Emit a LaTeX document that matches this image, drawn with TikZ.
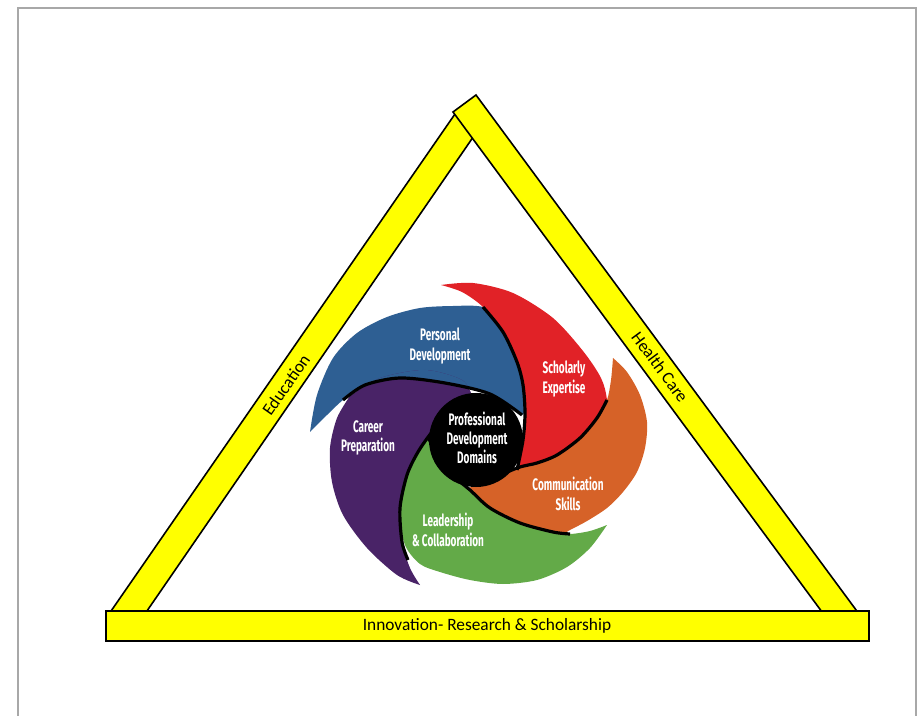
\documentclass[tikz,border=0pt]{standalone}
\usepackage{fontspec}
\newfontfamily\barfont{Carlito}
\newfontfamily\bladefont[FakeStretch=0.6]{Fira Sans}

\tikzset{every picture/.style={line width=0.75pt}}
\tikzset{
  bar/.style={draw=black, line width=1.2pt, fill={rgb, 255:red, 255; green, 255; blue, 0}},
  bartext/.style={inner sep=0.75pt, font=\barfont\fontsize{13}{15}\selectfont},
  bladetext/.style={inner sep=0.75pt, align=center, text=white, font=\bladefont\bfseries\fontsize{12.5}{14.5}\selectfont},
  rim/.style={draw=black, line width=2.4pt},
}

% outline of the blue and the purple blade, both are needed twice
\newcommand\bluebladepath{plot[smooth] coordinates {(310,432) (317,395) (333,358) (357,333) (387,317) (420,308) (453,306) (483,307) (515,322) (533,365) (535,398) (522,415)} -- plot[smooth] coordinates {(522,415) (490,394) (445,383) (400,378) (365,385) (343,400) (327,415) (310,432)} -- cycle}
\newcommand\purplebladepath{plot[smooth] coordinates {(420,585) (397,575) (367,548) (343,515) (332,482) (330,448) (337,418) (350,396)} -- plot[smooth] coordinates {(350,396) (380,378) (425,370) (462,380) (472,396)} -- plot[smooth] coordinates {(472,396) (450,412) (432,432) (418,452) (407,475) (400,508) (402,542) (410,568) (420,585)} -- cycle}

\begin{document}
\begin{tikzpicture}[x=0.75pt,y=0.75pt,yscale=-1,xscale=1]
    \useasboundingbox (0,0) rectangle (921,716);

    %Shape: Frame
    \draw [color={rgb, 255:red, 168; green, 168; blue, 168 }, line width=1.5pt] (18,716) -- (18,8) -- (916,8) -- (916,716) ;

    %Shape: Polygon (left side)
    \draw [bar] (107.6,616) -- (143.5,616) -- (478,130) -- (455,114) -- cycle ;
    %Shape: Polygon (right side)
    \draw [bar] (453,112) -- (476,95) -- (862,618) -- (839,635) -- cycle ;
    %Shape: Rectangle (base)
    \draw [bar] (106,611) rectangle (869,641) ;

    %Curve Lines: blue blade
    \fill [color={rgb, 255:red, 46; green, 95; blue, 147 }] \bluebladepath ;
    %Curve Lines: red blade
    \fill [color={rgb, 255:red, 225; green, 34; blue, 39 }] plot[smooth] coordinates {(441,285) (473,283) (513,293) (553,318) (583,351) (601,378) (607,400) (607,432) (580,460) (517,470)} -- plot[smooth] coordinates {(517,470) (523,440) (525,413) (523,385) (517,362) (503,332) (483,307) (462,292) (441,285)} -- cycle ;
    %Curve Lines: orange blade
    \fill [color={rgb, 255:red, 214; green, 98; blue, 40 }] plot[smooth] coordinates {(613,358) (627,372) (640,395) (647,422) (645,448) (637,472) (623,492) (607,508) (587,521) (570,530) (545,543) (505,535) (463,490)} -- plot[smooth] coordinates {(463,490) (490,480) (517,468) (537,463) (557,455) (580,438) (597,418) (607,400) (611,380) (613,358)} -- cycle ;
    %Curve Lines: green blade
    \fill [color={rgb, 255:red, 99; green, 170; blue, 72 }] plot[smooth] coordinates {(607,525) (590,548) (567,567) (537,580) (503,584) (470,580) (440,572) (420,564) (405,545) (398,510) (402,475) (415,450) (428,437)} -- plot[smooth] coordinates {(428,437) (445,468) (470,490) (490,508) (520,523) (553,532) (570,534) (590,531) (607,525)} -- cycle ;
    %Curve Lines: purple blade
    \fill [color={rgb, 255:red, 73; green, 35; blue, 103 }] \purplebladepath ;
    % blue lies over the purple again
    \begin{scope}
      \clip \purplebladepath ;
      \fill [color={rgb, 255:red, 46; green, 95; blue, 147 }] \bluebladepath ;
    \end{scope}

    %Curve Lines: black rims
    \draw [rim] plot[smooth] coordinates {(522,415) (490,394) (445,383) (400,378) (365,385) (343,400)} ;
    \draw [rim] plot[smooth] coordinates {(517,470) (523,440) (525,413) (523,385) (517,362) (503,332) (483,307)} ;
    \draw [rim] plot[smooth] coordinates {(480,484) (517,468) (537,463) (557,455) (580,438) (597,418) (607,400)} ;
    \draw [rim] plot[smooth] coordinates {(428,437) (445,468) (470,490) (490,508) (520,523) (553,532) (570,534)} ;
    \draw [rim] plot[smooth] coordinates {(472,396) (450,412) (432,432) (418,452) (407,475) (400,508) (402,542) (408,560)} ;

    %Shape: Circle (hub)
    \fill [black] (476,440) circle [radius=47] ;

    % Text Node
    \draw (286,385) node (eduLabel) [bartext, rotate=55] {Education};
    % Text Node
    \draw (660,367) node (healthLabel) [bartext, rotate=-53.6] {Health Care};
    % Text Node
    \draw (487,626) node (innovLabel) [bartext] {Innovation- Research \& Scholarship};

    % Text Node
    \draw (440,346) node (persDev) [bladetext] {Personal\\Development};
    % Text Node
    \draw (564,379) node (scholExp) [bladetext] {Scholarly\\Expertise};
    % Text Node
    \draw (568,494) node (commSkills) [bladetext] {Communication\\Skills};
    % Text Node
    \draw (448,530) node (leadColl) [bladetext] {Leadership\\\& Collaboration};
    % Text Node
    \draw (368,438) node (careerPrep) [bladetext] {Career\\Preparation};
    % Text Node
    \draw (477,438) node (profDomains) [bladetext] {Professional\\Development\\Domains};

\end{tikzpicture}
\end{document}
